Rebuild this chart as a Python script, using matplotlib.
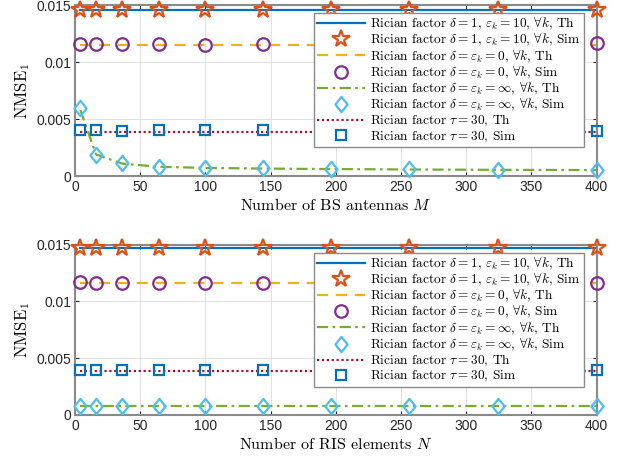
import numpy as np
import matplotlib
matplotlib.use("Agg")
import matplotlib.pyplot as plt
from matplotlib.path import Path

# sample positions (M for top panel, N for bottom panel)
x_vals = [4, 16, 36, 64, 100, 144, 196, 256, 324, 400]

# top panel: NMSE_1 vs number of BS antennas M
top_th_rice = [0.0146] * 10
top_sim_rice = [0.01456, 0.01456, 0.01456, 0.01457, 0.01456, 0.01455, 0.01456, 0.01456, 0.01457, 0.01456]
top_th_ray = [0.0115] * 10
top_sim_ray = [0.01155, 0.01155, 0.01157, 0.01155, 0.01154, 0.01155, 0.01156, 0.01155, 0.01156, 0.01166]
top_th_los = [0.0058, 0.0019, 0.0011, 0.00082, 0.00072, 0.00066, 0.00062, 0.00058, 0.00055, 0.00053]
top_sim_los = [0.00594, 0.00184, 0.00111, 0.00082, 0.00073, 0.00069, 0.00063, 0.00058, 0.00055, 0.00054]
top_th_tau = [0.0039] * 10
top_sim_tau = [0.00400, 0.00400, 0.00399, 0.00400, 0.00401, 0.00400, 0.00400, 0.00399, 0.00400, 0.00399]

# bottom panel: NMSE_1 vs number of RIS elements N
bot_th_rice = [0.0147] * 10
bot_sim_rice = [0.01475, 0.01476, 0.01475, 0.01474, 0.01475, 0.01475, 0.01476, 0.01475, 0.01475, 0.01476]
bot_th_ray = [0.0116] * 10
bot_sim_ray = [0.01176, 0.01162, 0.01161, 0.01162, 0.01161, 0.01162, 0.01161, 0.01162, 0.01161, 0.01162]
bot_th_los = [0.0008] * 10
bot_sim_los = [0.00080, 0.00080, 0.00080, 0.00080, 0.00080, 0.00080, 0.00080, 0.00080, 0.00080, 0.00080]
bot_th_tau = [0.0039] * 10
bot_sim_tau = [0.00397, 0.00398, 0.00397, 0.00397, 0.00397, 0.00397, 0.00397, 0.00397, 0.00397, 0.00397]

labels = [
    r"Rician factor $\delta=1$, $\varepsilon_k=10$, $\forall k$, Th",
    r"Rician factor $\delta=1$, $\varepsilon_k=10$, $\forall k$, Sim",
    r"Rician factor $\delta=\varepsilon_k=0$, $\forall k$, Th",
    r"Rician factor $\delta=\varepsilon_k=0$, $\forall k$, Sim",
    r"Rician factor $\delta=\varepsilon_k=\infty$, $\forall k$, Th",
    r"Rician factor $\delta=\varepsilon_k=\infty$, $\forall k$, Sim",
    r"Rician factor $\tau=30$, Th",
    r"Rician factor $\tau=30$, Sim",
]

plt.rcParams["font.family"] = "serif"
plt.rcParams["font.serif"] = ["cmr10", "DejaVu Serif"]
plt.rcParams["mathtext.fontset"] = "cm"
plt.rcParams["axes.unicode_minus"] = False

BLUE = "#0072BD"
ORANGE = "#D95319"
YELLOW = "#EDB120"
PURPLE = "#7E2F8E"
GREEN = "#77AC30"
CYAN = "#4DBEEE"
RED = "#A2142F"

# matlab-like diamond, a bit taller than wide
diamond = Path([(0, 1), (0.8, 0), (0, -1), (-0.8, 0), (0, 1)],
               [Path.MOVETO, Path.LINETO, Path.LINETO, Path.LINETO, Path.CLOSEPOLY])

fig = plt.figure(figsize=(6.26, 4.61), dpi=100)
ax1 = fig.add_axes([0.12, 0.618, 0.833, 0.371])
ax2 = fig.add_axes([0.12, 0.100, 0.833, 0.369])


def draw(ax, data, xlabel):
    th_rice, sim_rice, th_ray, sim_ray, th_los, sim_los, th_tau, sim_tau = data
    ax.plot(x_vals, th_rice, color=BLUE, lw=1.6, label=labels[0])
    ax.plot(x_vals, sim_rice, ls="none", marker="*", ms=13, mfc="none",
            mec=ORANGE, mew=1.6, label=labels[1], clip_on=False, zorder=5)
    ax.plot(x_vals, th_ray, color=YELLOW, lw=1.6, ls=(0, (5, 3.5)), label=labels[2])
    ax.plot(x_vals, sim_ray, ls="none", marker="o", ms=9, mfc="none",
            mec=PURPLE, mew=1.6, label=labels[3], clip_on=False, zorder=5)
    ax.plot(x_vals, th_los, color=GREEN, lw=1.6, ls=(0, (5, 2, 1.2, 2)), label=labels[4])
    ax.plot(x_vals, sim_los, ls="none", marker=diamond, ms=11, mfc="none",
            mec=CYAN, mew=1.6, label=labels[5], clip_on=False, zorder=5)
    ax.plot(x_vals, th_tau, color=RED, lw=1.6, ls=(0, (1, 1.2)), label=labels[6])
    ax.plot(x_vals, sim_tau, ls="none", marker="s", ms=7, mfc="none",
            mec=BLUE, mew=1.6, label=labels[7], clip_on=False, zorder=5)

    ax.set_xlim(0, 400)
    ax.set_ylim(0, 0.015)
    ax.set_xticks(np.arange(0, 401, 50))
    ax.set_yticks([0, 0.005, 0.01, 0.015])
    ax.set_yticklabels(["0", "0.005", "0.01", "0.015"])
    for lab in ax.get_xticklabels() + ax.get_yticklabels():
        lab.set_family("Liberation Sans")
        lab.set_fontsize(10)
        lab.set_color("#262626")
    ax.tick_params(direction="in", length=3, top=True, right=True, color="#262626", pad=3)
    ax.grid(True, color="#dddddd", lw=0.6)
    ax.set_axisbelow(True)
    for sp in ax.spines.values():
        sp.set_color("#8a8a8a")
        sp.set_linewidth(1.5)
    ax.set_xlabel(xlabel, fontsize=11.5, labelpad=2)
    ax.set_ylabel(r"$\mathrm{NMSE}_1$", fontsize=12, labelpad=3)
    leg = ax.legend(loc="upper right", bbox_to_anchor=(0.975, 0.953), fontsize=9.6,
                    handlelength=3.6, handletextpad=0.4, labelspacing=0.0,
                    borderpad=0.22, borderaxespad=0, fancybox=False, framealpha=1,
                    edgecolor="#8a8a8a")
    leg.get_frame().set_linewidth(1.0)
    leg.set_zorder(10)


draw(ax1, [top_th_rice, top_sim_rice, top_th_ray, top_sim_ray,
           top_th_los, top_sim_los, top_th_tau, top_sim_tau],
     r"Number of BS antennas $M$")
draw(ax2, [bot_th_rice, bot_sim_rice, bot_th_ray, bot_sim_ray,
           bot_th_los, bot_sim_los, bot_th_tau, bot_sim_tau],
     r"Number of RIS elements $N$")

fig.savefig("out.png", dpi=100)
